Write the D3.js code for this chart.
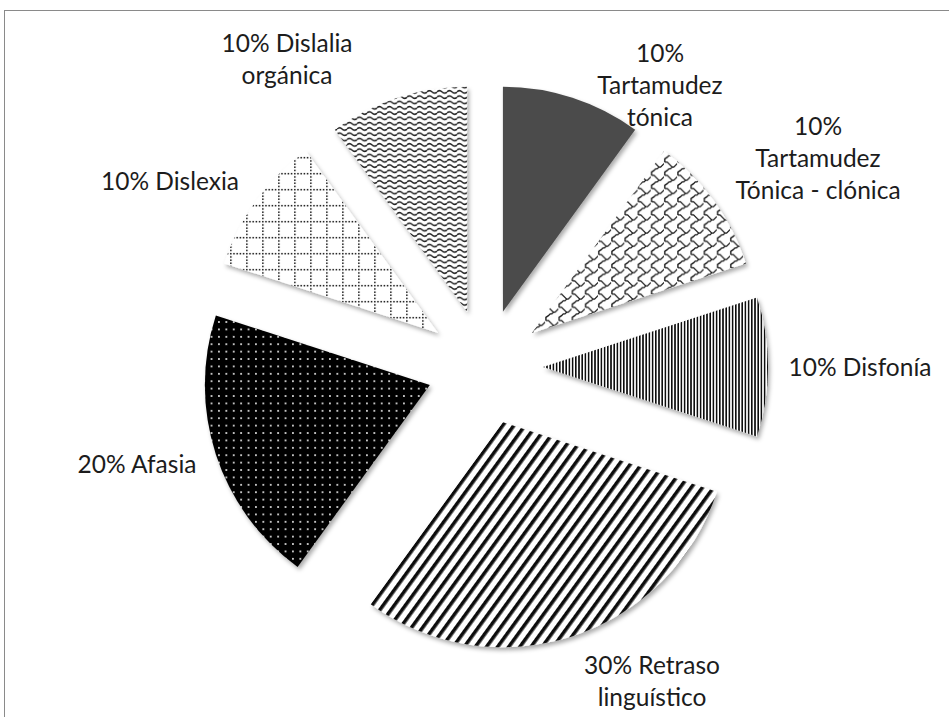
<!DOCTYPE html>
<html>
<head>
<meta charset="utf-8">
<script src="https://cdn.jsdelivr.net/npm/d3@7"></script>
<style>
  html, body { margin: 0; padding: 0; background: #ffffff; }
  svg { display: block; }
</style>
</head>
<body>
<script>
// Distribución de trastornos del lenguaje (porcentaje de casos)
const categories = [
  "Tartamudez tónica",
  "Tartamudez Tónica - clónica",
  "Disfonía",
  "Retraso linguístico",
  "Afasia",
  "Dislexia",
  "Dislalia orgánica"
];
const values = [10, 10, 10, 30, 20, 10, 10];

// words per label line ("10% Tartamudez tónica" -> "10%" / "Tartamudez" / "tónica")
const labelWordsPerLine = [[1, 1, 1], [1, 1, 3], [2], [2, 1], [2], [2], [2, 1]];

// label anchors: centre x and first baseline y
const labelAnchors = [[660, 62], [818, 135], [860, 376], [652, 674], [137, 473], [170, 190], [287, 52]];

const fills = ["#4b4b4b", "url(#p-shingle)", "url(#p-vlines)", "url(#p-diag)",
               "url(#p-dots)", "url(#p-grid)", "url(#p-wave)"];

const W = 949, H = 717;
const cx = 485, cy = 367, R = 225, explode = 58, lineGap = 32;

const svg = d3.select("body").append("svg").attr("width", W).attr("height", H);
const defs = svg.append("defs");

// soft shadow under every wedge
const sh = defs.append("filter").attr("id", "shadow")
  .attr("x", "-20%").attr("y", "-20%").attr("width", "140%").attr("height", "140%");
sh.append("feDropShadow").attr("dx", 2).attr("dy", 3).attr("stdDeviation", 2.2)
  .attr("flood-color", "#000").attr("flood-opacity", 0.33);

function pattern(id, w, h, transform) {
  const p = defs.append("pattern").attr("id", id).attr("patternUnits", "userSpaceOnUse")
    .attr("width", w).attr("height", h);
  if (transform) p.attr("patternTransform", transform);
  return p;
}

// shingle
{
  const p = pattern("p-shingle", 8, 8, "scale(-1.65,1.65)");
  p.append("rect").attr("width", 8).attr("height", 8).attr("fill", "#fff");
  p.append("path")
    .attr("d", "M-1,0.5 L0,1.5 L1,2.5 L2,3.5 L3,3.5 L4,2.5 L5,1.5 L6,0.5 L7.5,0.5 M3,3.5 L4,4.5 L5,4.5 L6,5.5 L7.5,6.5 L7.5,8.5 M7.5,-1 L7.5,0.5")
    .attr("fill", "none").attr("stroke", "#111").attr("stroke-width", 0.8);
}
// narrow vertical lines
{
  const p = pattern("p-vlines", 3.2, 4);
  p.append("rect").attr("width", 3.2).attr("height", 4).attr("fill", "#fff");
  p.append("rect").attr("width", 1.6).attr("height", 4).attr("fill", "#111");
}
// wide upward diagonal stripes
{
  const p = pattern("p-diag", 9, 10, "rotate(36)");
  p.append("rect").attr("width", 9).attr("height", 10).attr("fill", "#fff");
  p.append("rect").attr("width", 3.6).attr("height", 10).attr("fill", "#111");
}
// white dots on black
{
  const p = pattern("p-dots", 7.4, 7.4);
  p.append("rect").attr("width", 7.4).attr("height", 7.4).attr("fill", "#050505");
  p.append("circle").attr("cx", 3.7).attr("cy", 3.7).attr("r", 0.95).attr("fill", "#fff");
}
// dotted grid
{
  const p = pattern("p-grid", 16, 16);
  p.append("rect").attr("width", 16).attr("height", 16).attr("fill", "#fff");
  p.append("path").attr("d", "M0,0.8 H16 M0.8,0 V16")
    .attr("stroke", "#111").attr("stroke-width", 1.5).attr("stroke-dasharray", "1.5 1.7");
}
// wave
{
  const p = pattern("p-wave", 10, 5.3);
  p.append("rect").attr("width", 10).attr("height", 5.3).attr("fill", "#fff");
  p.append("path").attr("d", "M0,2.65 Q2.5,0.2 5,2.65 T10,2.65")
    .attr("fill", "none").attr("stroke", "#1e1e1e").attr("stroke-width", 1.5);
}

// chart frame
svg.append("rect").attr("x", 4.5).attr("y", 10.5).attr("width", 980).attr("height", 740)
  .attr("fill", "none").attr("stroke", "#8a8a8a").attr("stroke-width", 1);

const data = categories.map((c, i) => ({ name: c, value: values[i], i }));
const pie = d3.pie().sort(null).value(d => d.value).startAngle(0).endAngle(2 * Math.PI);
const arc = d3.arc().innerRadius(0).outerRadius(R);
const arcs = pie(data);

const g = svg.append("g").attr("transform", `translate(${cx},${cy})`);
g.selectAll("path.slice").data(arcs).enter().append("path")
  .attr("class", "slice")
  .attr("d", arc)
  .attr("fill", d => fills[d.data.i])
  .attr("filter", "url(#shadow)")
  .attr("transform", d => {
    const mid = (d.startAngle + d.endAngle) / 2;
    return `translate(${explode * Math.sin(mid)},${-explode * Math.cos(mid)})`;
  });

// data labels
arcs.forEach(d => {
  const i = d.data.i;
  const words = `${d.data.value}% ${d.data.name}`.split(" ");
  const lines = [];
  let k = 0;
  labelWordsPerLine[i].forEach(n => { lines.push(words.slice(k, k + n).join(" ")); k += n; });
  const [lx, ly] = labelAnchors[i];
  const t = svg.append("text")
    .attr("text-anchor", "middle")
    .attr("font-family", "Lato, 'Open Sans', sans-serif")
    .attr("font-size", 24.5)
    .attr("fill", "#1c1c1c");
  lines.forEach((s, j) => t.append("tspan").attr("x", lx).attr("y", ly + j * lineGap).text(s));
});
</script>
</body>
</html>
